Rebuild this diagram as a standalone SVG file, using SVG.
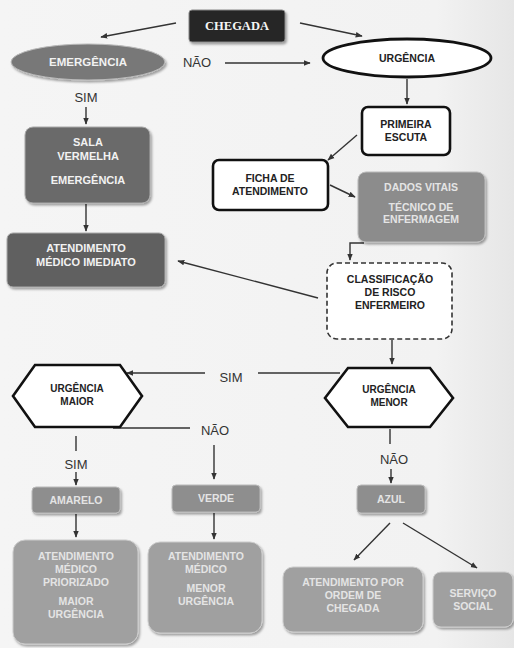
<svg xmlns="http://www.w3.org/2000/svg" width="514" height="648" viewBox="0 0 514 648">
<defs>
<marker id="ah" viewBox="0 0 10 10" refX="9" refY="5" markerWidth="7" markerHeight="7" orient="auto-start-reverse" markerUnits="userSpaceOnUse">
<path d="M0,1 L10,5 L0,9 Z" fill="#333"/>
</marker>
<filter id="sh" x="-10%" y="-10%" width="125%" height="130%">
<feDropShadow dx="1.5" dy="2" stdDeviation="1.2" flood-color="#000" flood-opacity="0.35"/>
</filter>
<linearGradient id="bg" x1="0" y1="0" x2="1" y2="0">
<stop offset="0" stop-color="#f5f5f5"/>
<stop offset="0.85" stop-color="#f2f2f2"/>
<stop offset="1" stop-color="#e6e6e6"/>
</linearGradient>
</defs>
<style>
text{font-family:"Liberation Sans",Arial,sans-serif;font-weight:bold;text-anchor:middle;}
.lbl{font-weight:normal;font-size:13px;fill:#333;}
.w{fill:#f2f2f2;font-size:11px;}
.wl{fill:#e4e4e4;font-size:10.5px;}
.k{fill:#222;font-size:10.5px;}
.out{fill:#fff;stroke:#111;stroke-width:2.6;}
.c{stroke:#333;stroke-width:1.4;fill:none;}
</style>
<rect x="0" y="0" width="514" height="648" fill="url(#bg)"/>

<g id="connectors">
<line class="c" x1="176" y1="23" x2="101" y2="37" marker-end="url(#ah)"/>
<line class="c" x1="300" y1="23" x2="362" y2="36" marker-end="url(#ah)"/>
<line class="c" x1="225" y1="63" x2="310" y2="63" marker-end="url(#ah)"/>
<line class="c" x1="86" y1="107" x2="86" y2="124" marker-end="url(#ah)"/>
<line class="c" x1="86" y1="204" x2="86" y2="231" marker-end="url(#ah)"/>
<line class="c" x1="407" y1="79" x2="407" y2="104" marker-end="url(#ah)"/>
<line class="c" x1="357" y1="135" x2="328" y2="160" marker-end="url(#ah)"/>
<line class="c" x1="330" y1="185" x2="355" y2="197" marker-end="url(#ah)"/>
<polyline class="c" points="364,243 350,243 350,260" marker-end="url(#ah)"/>
<line class="c" x1="318" y1="298" x2="178" y2="261" marker-end="url(#ah)"/>
<line class="c" x1="392" y1="340" x2="392" y2="364" marker-end="url(#ah)"/>
<line class="c" x1="340" y1="373" x2="258" y2="373"/>
<line class="c" x1="205" y1="373" x2="127" y2="373" marker-end="url(#ah)"/>
<line class="c" x1="113" y1="428" x2="190" y2="428"/>
<line class="c" x1="214" y1="445" x2="214" y2="479" marker-end="url(#ah)"/>
<line class="c" x1="76" y1="436" x2="76" y2="451"/>
<line class="c" x1="76" y1="472" x2="76" y2="485" marker-end="url(#ah)"/>
<line class="c" x1="390" y1="429" x2="390" y2="444"/>
<line class="c" x1="391" y1="469" x2="391" y2="483" marker-end="url(#ah)"/>
<line class="c" x1="76" y1="514" x2="76" y2="537" marker-end="url(#ah)"/>
<line class="c" x1="214" y1="513" x2="214" y2="539" marker-end="url(#ah)"/>
<line class="c" x1="390" y1="523" x2="354" y2="560" marker-end="url(#ah)"/>
<line class="c" x1="403" y1="523" x2="477" y2="568" marker-end="url(#ah)"/>
<text class="lbl" x="197" y="67">NÃO</text>
<text class="lbl" x="86" y="102">SIM</text>
<text class="lbl" x="231" y="382">SIM</text>
<text class="lbl" x="215" y="435">NÃO</text>
<text class="lbl" x="76" y="469">SIM</text>
<text class="lbl" x="394" y="464">NÃO</text>
</g>

<g id="chegada">
<rect x="189" y="10" width="96" height="32" rx="3" fill="#262626" stroke="#888" stroke-width="1" filter="url(#sh)"/>
<text x="237" y="30" style="font-family:'Liberation Serif','Times New Roman',serif;font-size:12.5px;fill:#f5f5f5">CHEGADA</text>
</g>

<g id="emergencia">
<ellipse cx="88" cy="62" rx="77" ry="18" fill="#787878" stroke="#bbb" stroke-width="1" filter="url(#sh)"/>
<text class="w" x="88" y="66" style="font-size:11.5px">EMERGÊNCIA</text>
</g>

<g id="urgencia">
<ellipse cx="407" cy="58" rx="84" ry="19" fill="#fff" stroke="#111" stroke-width="2.8"/>
<text class="k" x="407" y="62">URGÊNCIA</text>
</g>

<g id="sala-vermelha">
<rect x="25" y="127" width="125" height="76" rx="8" fill="#6a6a6a" stroke="#aaa" stroke-width="1" filter="url(#sh)"/>
<text class="w" x="88" y="146">SALA</text>
<text class="w" x="88" y="160">VERMELHA</text>
<text class="w" x="88" y="184">EMERGÊNCIA</text>
</g>

<g id="atendimento-imediato">
<rect x="7" y="233" width="158" height="54" rx="6" fill="#606060" stroke="#aaa" stroke-width="1" filter="url(#sh)"/>
<text class="w" x="86" y="252">ATENDIMENTO</text>
<text class="w" x="86" y="266">MÉDICO IMEDIATO</text>
</g>

<g id="primeira-escuta">
<rect class="out" x="362" y="107" width="88" height="48" rx="6"/>
<text class="k" x="406" y="128">PRIMEIRA</text>
<text class="k" x="406" y="141">ESCUTA</text>
</g>

<g id="ficha">
<rect class="out" x="213" y="160" width="115" height="50" rx="6"/>
<text class="k" x="270" y="182">FICHA DE</text>
<text class="k" x="270" y="195">ATENDIMENTO</text>
</g>

<g id="dados-vitais">
<rect x="358" y="172" width="127" height="70" rx="8" fill="#8c8c8c" stroke="#bbb" stroke-width="1" filter="url(#sh)"/>
<text class="wl" x="421" y="191">DADOS VITAIS</text>
<text class="wl" x="421" y="211">TÉCNICO DE</text>
<text class="wl" x="421" y="223">ENFERMAGEM</text>
</g>

<g id="classificacao">
<rect x="327" y="263" width="125" height="76" rx="10" fill="#fff" stroke="#333" stroke-width="1.6" stroke-dasharray="5,3"/>
<text class="k" x="390" y="283">CLASSIFICAÇÃO</text>
<text class="k" x="390" y="296">DE RISCO</text>
<text class="k" x="390" y="309">ENFERMEIRO</text>
</g>

<g id="urgencia-maior">
<polygon class="out" points="13,396 35,365 120,365 142,396 120,427 35,427"/>
<text class="k" x="77" y="392" style="font-size:10px">URGÊNCIA</text>
<text class="k" x="77" y="405" style="font-size:10px">MAIOR</text>
</g>

<g id="urgencia-menor">
<polygon class="out" points="325,398 348,368 430,368 453,398 430,427 348,427"/>
<text class="k" x="389" y="393" style="font-size:10px">URGÊNCIA</text>
<text class="k" x="389" y="406" style="font-size:10px">MENOR</text>
</g>

<g id="amarelo">
<rect x="32" y="487" width="88" height="26" rx="4" fill="#8e8e8e" stroke="#bbb" stroke-width="1" filter="url(#sh)"/>
<text class="wl" x="76" y="504">AMARELO</text>
</g>

<g id="verde">
<rect x="172" y="485" width="88" height="27" rx="4" fill="#8e8e8e" stroke="#bbb" stroke-width="1" filter="url(#sh)"/>
<text class="wl" x="216" y="502">VERDE</text>
</g>

<g id="azul">
<rect x="357" y="485" width="68" height="28" rx="4" fill="#8e8e8e" stroke="#bbb" stroke-width="1" filter="url(#sh)"/>
<text class="wl" x="391" y="503">AZUL</text>
</g>

<g id="atendimento-priorizado">
<rect x="13" y="540" width="125" height="104" rx="12" fill="#a0a0a0" stroke="#ccc" stroke-width="1" filter="url(#sh)"/>
<text class="wl" x="76" y="560">ATENDIMENTO</text>
<text class="wl" x="76" y="573">MÉDICO</text>
<text class="wl" x="76" y="586">PRIORIZADO</text>
<text class="wl" x="76" y="605">MAIOR</text>
<text class="wl" x="76" y="618">URGÊNCIA</text>
</g>

<g id="atendimento-medico">
<rect x="148" y="542" width="114" height="91" rx="12" fill="#a0a0a0" stroke="#ccc" stroke-width="1" filter="url(#sh)"/>
<text class="wl" x="206" y="560">ATENDIMENTO</text>
<text class="wl" x="206" y="573">MÉDICO</text>
<text class="wl" x="206" y="592">MENOR</text>
<text class="wl" x="206" y="605">URGÊNCIA</text>
</g>

<g id="ordem-chegada">
<rect x="283" y="567" width="140" height="65" rx="10" fill="#a0a0a0" stroke="#ccc" stroke-width="1" filter="url(#sh)"/>
<text class="wl" x="353" y="586">ATENDIMENTO POR</text>
<text class="wl" x="353" y="599">ORDEM DE</text>
<text class="wl" x="353" y="612">CHEGADA</text>
</g>

<g id="servico-social">
<rect x="433" y="572" width="80" height="55" rx="8" fill="#a0a0a0" stroke="#ccc" stroke-width="1" filter="url(#sh)"/>
<text class="wl" x="473" y="597">SERVIÇO</text>
<text class="wl" x="473" y="610">SOCIAL</text>
</g>
</svg>
